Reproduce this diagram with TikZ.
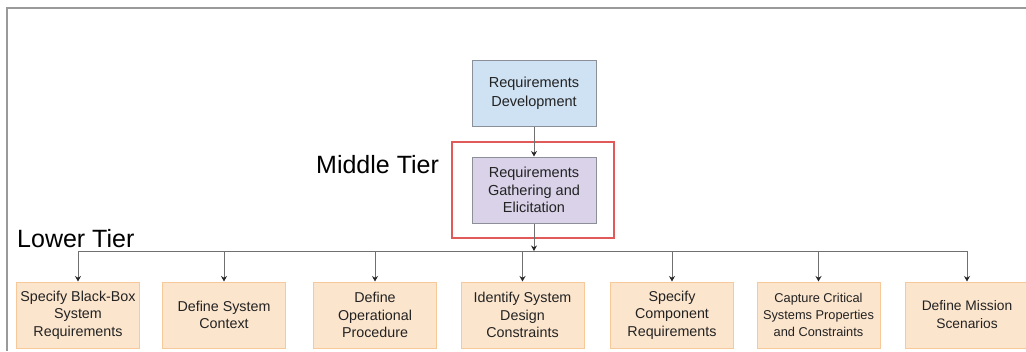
\documentclass[tikz,border=0pt]{standalone}
\usepackage{fontspec}
\setmainfont{Liberation Sans}
\usetikzlibrary{arrows.meta}
\definecolor{bluefill}{HTML}{CFE2F3}
\definecolor{purplefill}{HTML}{D9D2E9}
\definecolor{orangefill}{HTML}{FCE5CD}
\definecolor{orangeline}{HTML}{F6C89A}
\definecolor{boxline}{HTML}{8A8F98}
\definecolor{redline}{HTML}{E05A5A}
\definecolor{conn}{HTML}{707070}
\definecolor{frameline}{HTML}{9A9A9A}
\definecolor{txt}{HTML}{222222}
\definecolor{tipcol}{HTML}{262626}
\tikzset{
  topbox/.style={draw=boxline, line width=1pt, minimum width=124pt, minimum height=66pt, inner sep=0pt, align=center, text=txt, font=\fontsize{14.5}{19}\selectfont},
  leafbox/.style={draw=orangeline, fill=orangefill, line width=1pt, minimum width=123pt, minimum height=66pt, inner sep=0pt, align=center, text=txt, font=\fontsize{14.3}{17.5}\selectfont},
  arr/.style={draw=conn, line width=1pt, -{Stealth[length=5.5pt,width=6pt,color=tipcol]}},
  bus/.style={draw=conn, line width=1pt},
  tier/.style={font=\fontsize{25}{28}\selectfont, text=black, inner sep=0pt, anchor=base west},
}
\begin{document}
\begin{tikzpicture}[x=1pt,y=-1pt]
\useasboundingbox (0,0) rectangle (1026,351);
\begin{scope}
\clip (0,0) rectangle (1026,351);
% frame
\draw[frameline, line width=1.5pt] (7,351) -- (7,8) -- (1026,8);

\node[topbox, fill=bluefill] (dev) at (534,93.5) {Requirements\\Development};
\node[topbox, fill=purplefill, font=\fontsize{14.5}{17.5}\selectfont] (gath) at (534,190) {Requirements\\Gathering and\\Elicitation};
\node[draw=redline, line width=1.4pt, minimum width=162pt, minimum height=96pt, inner sep=0pt] (mid) at (533,190) {};

\node[tier] (midlabel) at (316,173) {Middle Tier};
\node[tier] (lowlabel) at (17,247) {Lower Tier};

\node[leafbox] (b1) at (78,315) {Specify Black-Box\\System\\Requirements};
\node[leafbox] (b2) at (224,315) {Define System\\Context};
\node[leafbox] (b3) at (375,315) {Define\\Operational\\Procedure};
\node[leafbox] (b4) at (522.5,315) {Identify System\\Design\\Constraints};
\node[leafbox] (b5) at (672,315) {Specify\\Component\\Requirements};
\node[leafbox, font=\fontsize{12.8}{17}\selectfont] (b6) at (818.5,315) {Capture Critical\\Systems Properties\\and Constraints};
\node[leafbox, font=\fontsize{13.8}{18}\selectfont] (b7) at (967,315) {Define Mission\\Scenarios};

\coordinate (busc) at (534,251);
\draw[arr] (dev) -- (gath);
\draw[arr] (gath) -- (busc);
\draw[bus] (busc -| b1) -- (busc -| b7);
\foreach \b in {b1,b2,b3,b4,b5,b6,b7}
  \draw[arr] (busc -| \b) -- (\b);
\end{scope}
\end{tikzpicture}
\end{document}
